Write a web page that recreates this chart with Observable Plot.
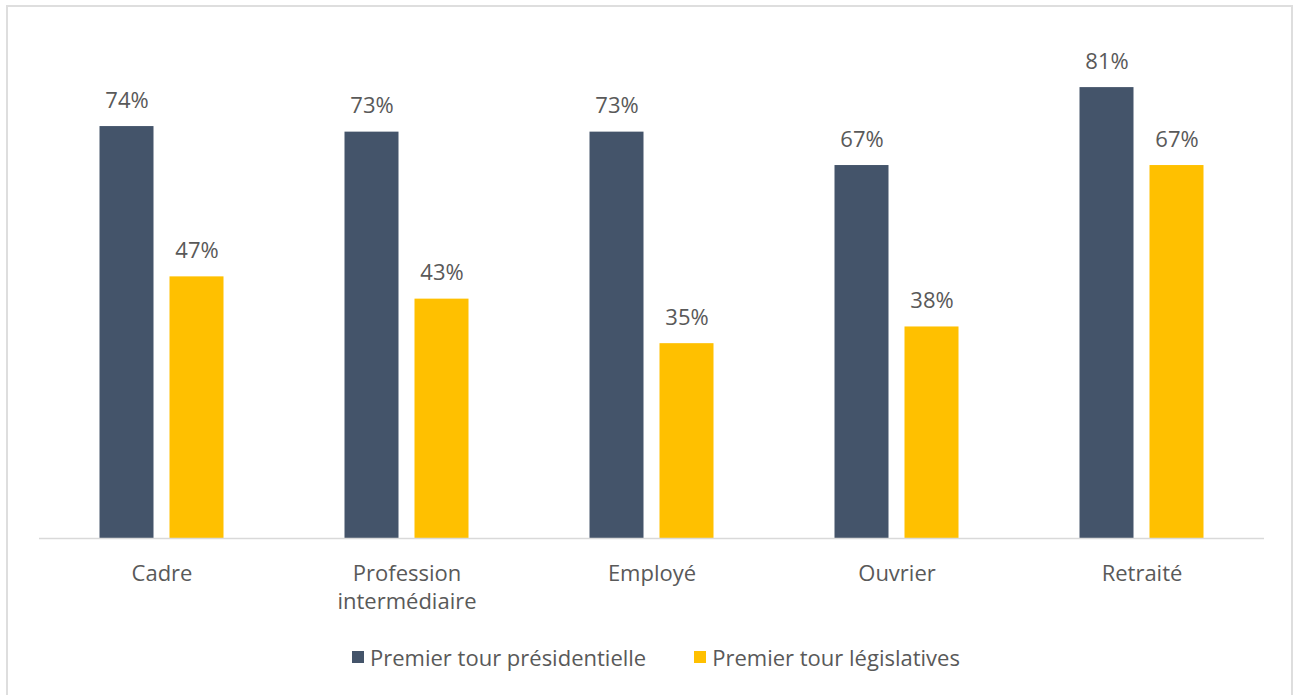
<!DOCTYPE html>
<html><head><meta charset="utf-8">
<script src="https://cdn.jsdelivr.net/npm/d3@7"></script>
<script src="https://cdn.jsdelivr.net/npm/@observablehq/plot@0.6"></script>
<style>
body{margin:0;background:#fff;font-family:"Open Sans",sans-serif;color:#595959;}
#wrap{position:relative;width:1299px;height:695px;overflow:hidden;background:#fff;}
#frame{position:absolute;left:6px;top:5px;width:1287px;height:720px;border:2px solid #dedede;box-sizing:border-box;}
#chart{position:absolute;left:0;top:0;}
#legend{position:absolute;top:642px;left:352px;display:flex;align-items:center;font-size:22px;white-space:nowrap;}
.item{display:flex;align-items:center;}
.sw{width:12px;height:12px;margin-right:6px;}
</style></head>
<body>
<div id="wrap"><div id="frame"></div><div id="chart"></div><div id="legend"></div></div>
<script>
const categories = ["Cadre", "Profession intermédiaire", "Employé", "Ouvrier", "Retraité"];
const categoryLabels = ["Cadre", "Profession\nintermédiaire", "Employé", "Ouvrier", "Retraité"];
const series = ["Premier tour présidentielle", "Premier tour législatives"];
const presidentielle = [74, 73, 73, 67, 81];
const legislatives = [47, 43, 35, 38, 67];
const colors = ["#44546a", "#ffc000"];

const data = categories.flatMap((c, i) => [
  {cat: c, series: series[0], value: presidentielle[i]},
  {cat: c, series: series[1], value: legislatives[i]}
]);

const chart = Plot.plot({
  width: 1299,
  height: 620,
  marginTop: 37,
  marginBottom: 82,
  marginLeft: 38.5,
  marginRight: 35.5,
  style: {fontFamily: "Open Sans", fontSize: "22px", color: "#595959", background: "transparent"},
  fx: {domain: categories, padding: 0, axis: null},
  x: {domain: series, paddingInner: 16 / 70, paddingOuter: 0.864, axis: null},
  y: {domain: [0, 90], axis: null},
  color: {domain: series, range: colors},
  marks: [
    Plot.barY(data, {fx: "cat", x: "series", y: "value", fill: "series"}),
    Plot.ruleY([0], {stroke: "#d9d9d9", strokeWidth: 1.5}),
    Plot.text(data, {fx: "cat", x: "series", y: "value", text: d => d.value + "%", lineAnchor: "bottom", dy: -19, fill: "#595959", fontSize: 22}),
    Plot.text(categories, {fx: d => d, text: (d, i) => categoryLabels[i], frameAnchor: "bottom", lineAnchor: "top", dy: 22, lineHeight: 1.3, fill: "#595959", fontSize: 22})
  ]
});
document.getElementById("chart").append(chart);

const legend = document.getElementById("legend");
series.forEach((s, i) => {
  const it = document.createElement("div");
  it.className = "item";
  if (i > 0) it.style.marginLeft = "48px";
  const sw = document.createElement("div");
  sw.className = "sw";
  sw.style.background = colors[i];
  const t = document.createElement("span");
  t.textContent = s;
  it.append(sw, t);
  legend.append(it);
});
</script>
</body></html>
